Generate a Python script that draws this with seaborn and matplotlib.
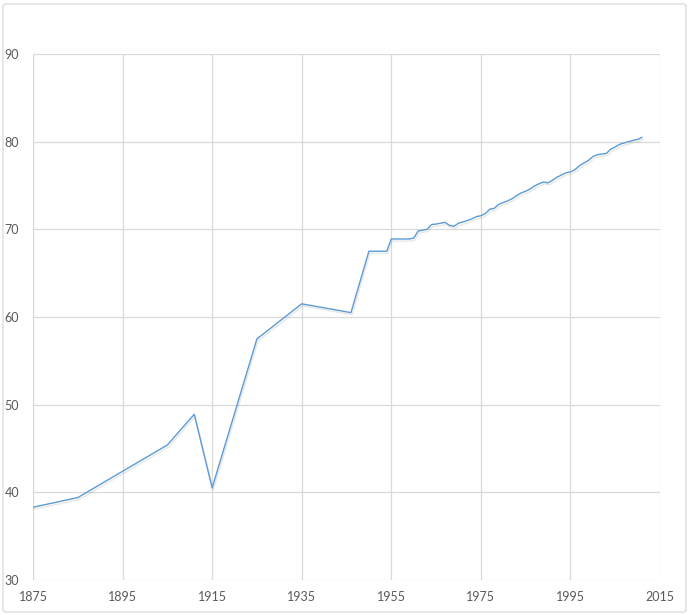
import matplotlib
matplotlib.use("Agg")
import matplotlib.pyplot as plt
import matplotlib.patheffects as pe
from matplotlib.patches import FancyBboxPatch
import seaborn as sns
import pandas as pd

years = [1875, 1885, 1905, 1911, 1915, 1925, 1935, 1946, 1950, 1954, 1955, 1959,
         1960, 1961, 1962, 1963, 1964, 1965, 1966, 1967, 1968, 1969,
         1970, 1971, 1972, 1973, 1974, 1975, 1976, 1977, 1978, 1979,
         1980, 1981, 1982, 1983, 1984, 1985, 1986, 1987, 1988, 1989,
         1990, 1991, 1992, 1993, 1994, 1995, 1996, 1997, 1998, 1999,
         2000, 2001, 2002, 2003, 2004, 2005, 2006, 2007, 2008, 2009,
         2010, 2011]
values = [38.3, 39.4, 45.4, 48.9, 40.5, 57.5, 61.5, 60.5, 67.5, 67.5, 68.9, 68.9,
          69.0, 69.8, 69.9, 70.0, 70.55, 70.6, 70.7, 70.8, 70.45, 70.35,
          70.7, 70.85, 71.0, 71.2, 71.45, 71.55, 71.8, 72.3, 72.4, 72.85,
          73.05, 73.25, 73.5, 73.85, 74.15, 74.35, 74.6, 74.95, 75.2, 75.4,
          75.3, 75.6, 75.95, 76.2, 76.45, 76.55, 76.8, 77.25, 77.55, 77.85,
          78.3, 78.5, 78.6, 78.65, 79.15, 79.4, 79.7, 79.85, 80.0, 80.15,
          80.25, 80.5]
x_ticks = [1875, 1895, 1915, 1935, 1955, 1975, 1995, 2015]
y_ticks = [30, 40, 50, 60, 70, 80, 90]

sns.set_theme(style="white")
plt.rcParams['font.family'] = ['Lato', 'DejaVu Sans']

df = pd.DataFrame({"year": years, "value": values})

fig = plt.figure(figsize=(6.9, 6.15), dpi=100)
ax = fig.add_axes([33/690, 1 - 580/615, (660 - 33)/690, (580 - 54)/615])

sns.lineplot(data=df, x="year", y="value", ax=ax, color="#5B9BD5", linewidth=1.0,
             path_effects=[pe.SimpleLineShadow(offset=(0.8, -1.5), shadow_color="#7f7f7f", alpha=0.18),
                           pe.Normal()])

ax.set_xlim(1875, 2015)
ax.set_ylim(30, 90)
ax.set_xticks(x_ticks)
ax.set_yticks(y_ticks)
ax.set_xticklabels([str(t) for t in x_ticks])
ax.set_yticklabels([str(t) for t in y_ticks])
ax.grid(True, color="#D9D9D9", linewidth=0.9)
ax.set_axisbelow(True)
for s in ax.spines.values():
    s.set_visible(False)
ax.tick_params(axis="both", length=0, labelsize=9, colors="#595959")
ax.tick_params(axis="y", pad=10)
ax.tick_params(axis="x", pad=8)
ax.set_xlabel("")
ax.set_ylabel("")

border = FancyBboxPatch((3/690, 3/615), 683/690, 608/615,
                        boxstyle="round,pad=0,rounding_size=0.004",
                        transform=fig.transFigure, fill=False,
                        edgecolor="#D9D9D9", linewidth=0.9)
fig.patches.append(border)

fig.savefig("out.png", dpi=100)
